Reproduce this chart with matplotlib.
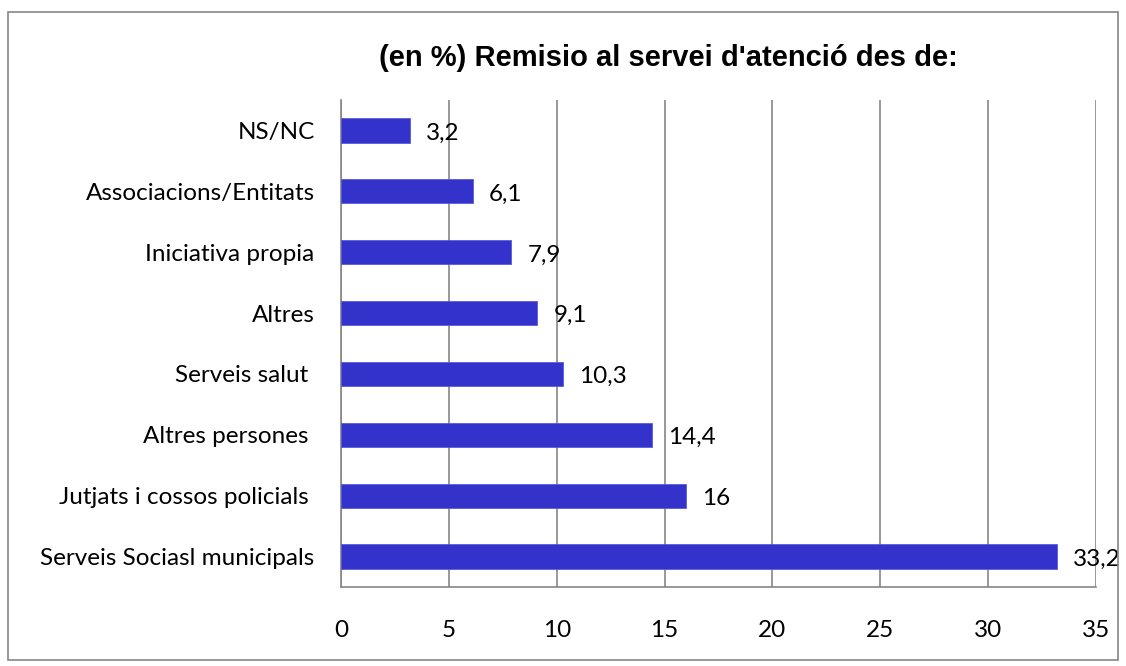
import matplotlib
matplotlib.use('Agg')
import matplotlib.pyplot as plt
from matplotlib.patches import Rectangle

categories = ['Serveis Sociasl municipals', 'Jutjats i cossos policials ',
              'Altres persones ', 'Serveis salut ', 'Altres',
              'Iniciativa propia', 'Associacions/Entitats', 'NS/NC']
values = [33.2, 16, 14.4, 10.3, 9.1, 7.9, 6.1, 3.2]
xticks = [0, 5, 10, 15, 20, 25, 30, 35]

label_font = 'Lato'
bar_color = '#3333CC'
grid_color = '#868686'
fs = 17.5

fig = plt.figure(figsize=(11.26, 6.66), dpi=100)
ax = fig.add_axes([341 / 1126, 1 - 587 / 666, (1096 - 341) / 1126, (587 - 100) / 666])

pos = list(range(len(categories)))
ax.barh(pos, values, height=0.4, color=bar_color, edgecolor='#5a5ae0', linewidth=0.6, zorder=3)

# data labels, offset a bit right of the bar end and slightly below centre
for y, v in zip(pos, values):
    txt = ('%g' % v).replace('.', ',')
    ax.annotate(txt, (v, y), xytext=(11.5, -2), textcoords='offset points',
                va='center', ha='left', fontsize=fs, family=label_font,
                color='black', zorder=4)

ax.set_xlim(0, 35)
ax.set_ylim(-0.5, len(categories) - 0.5)
ax.set_xticks(xticks)
ax.set_xticklabels([str(t) for t in xticks], fontsize=fs, family=label_font)
ax.set_yticks(pos)
ax.set_yticklabels(categories, fontsize=fs, family=label_font)
ax.tick_params(axis='x', length=0, pad=24)
ax.tick_params(axis='y', length=0, pad=19)

ax.grid(axis='x', color=grid_color, linewidth=1.2, zorder=0)
for s in ['top', 'right']:
    ax.spines[s].set_visible(False)
for s in ['left', 'bottom']:
    ax.spines[s].set_color(grid_color)
    ax.spines[s].set_linewidth(1.2)

fig.text(668 / 1126, 1 - 58 / 666, "(en %) Remisio al servei d'atenció des de:",
         ha='center', va='center', fontsize=21, fontweight='bold',
         family='Liberation Sans')

fig.patches.append(Rectangle((8 / 1126, 1 - 660 / 666), 1110 / 1126, 648 / 666,
                             transform=fig.transFigure, fill=False,
                             edgecolor=grid_color, linewidth=1.2))

fig.savefig('out.png', dpi=100)
